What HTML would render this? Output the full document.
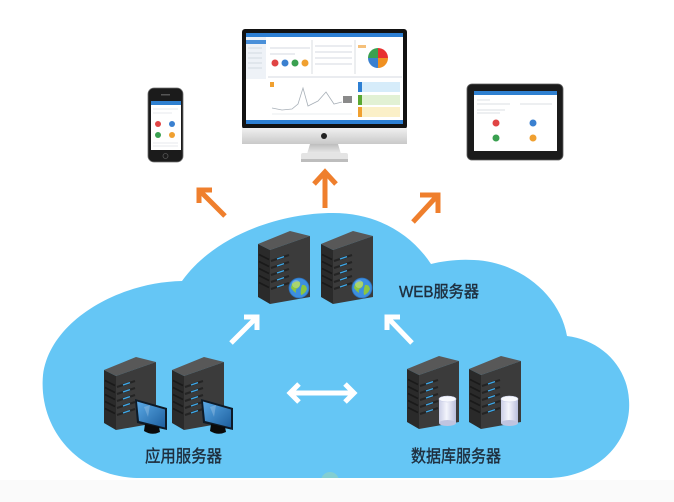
<!DOCTYPE html>
<html><head><meta charset="utf-8"><style>
html,body{margin:0;padding:0;background:#fff;}
svg{display:block}
</style></head><body>
<svg width="674" height="502" viewBox="0 0 674 502" xmlns="http://www.w3.org/2000/svg">
<defs>
 <linearGradient id="chin" x1="0" y1="0" x2="0" y2="1">
  <stop offset="0" stop-color="#f0f0f0"/><stop offset="1" stop-color="#c9c9c9"/>
 </linearGradient>
 <linearGradient id="stand" x1="0" y1="0" x2="0" y2="1">
  <stop offset="0" stop-color="#bdbdbd"/><stop offset="1" stop-color="#ececec"/>
 </linearGradient>
 <linearGradient id="mscr" x1="0" y1="0" x2="1" y2="1">
  <stop offset="0" stop-color="#5aa9e6"/><stop offset="1" stop-color="#1d5f9e"/>
 </linearGradient>
 <linearGradient id="cyl" x1="0" y1="0" x2="1" y2="0">
  <stop offset="0" stop-color="#c9cde6"/><stop offset="0.45" stop-color="#f4f5fc"/><stop offset="1" stop-color="#b9bedc"/>
 </linearGradient>
 <clipPath id="cloudclip">
  <path d="M140 478 L551 478 C600 476 632 440 629 400 C627 365 600 340 567 336 C560 295 520 262 474 260 C458 259 443 261 431 264 C410 232 375 213 333 213 C280 213 215 235 182 281 C120 282 50 320 43 375 C38 430 80 478 140 478 Z"/>
 </clipPath>
 <g id="srv">
  <path d="M0 13 L32 0 L52 5 L12 19 Z" fill="#585858"/>
  <path d="M0 13 L12 19 L12 73 L0 66 Z" fill="#2a2a2a"/>
  <path d="M12 19 L52 5 L52 66 L12 73 Z" fill="#3b3b3b"/>
  <g stroke-linecap="butt">
   <path d="M1 23.5 L11 28.5 M1 30.5 L11 35.5 M1 37.5 L11 42.5 M1 44.5 L11 49.5 M1 51.5 L11 56.5" stroke="#1a1a1a" stroke-width="1.6"/>
   <path d="M13 30 L31 24 M13 37 L31 31 M13 44 L31 38 M13 51 L31 45 M13 58 L31 52" stroke="#242424" stroke-width="2"/>
   <path d="M19 28 L26 25.6 M19 35 L26 32.6 M19 42 L26 39.6 M19 49 L26 46.6 M19 56 L26 53.6" stroke="#3fa8e8" stroke-width="1.4"/>
  </g>
 </g>
 <g id="globe">
  <circle cx="0" cy="0" r="10" fill="#3d8fe0"/>
  <path d="M-7 -4 Q-3 -8 1 -6 Q2 -2 -1 0 Q-4 1 -3 5 Q-6 3 -8 0 Z" fill="#8cc63f"/>
  <path d="M3 -3 Q7 -4 8 1 Q6 6 2 7 Q1 3 3 -3 Z" fill="#8cc63f"/>
  <circle cx="-3" cy="-4" r="4" fill="#fff" opacity="0.25"/>
  <circle cx="0" cy="0" r="10" fill="none" stroke="#2a6fb8" stroke-width="0.8"/>
 </g>
 <g id="mon">
  <path d="M31 42 L63 51 L63 73 L33 66 Z" fill="#0e1a26"/>
  <path d="M33 44.5 L61 52.5 L61 70.5 L35 64 Z" fill="url(#mscr)"/>
  <path d="M40 50 L46 48 L44 60 Z" fill="#fff" opacity="0.2"/>
  <path d="M41 67 L55 70 L56 75 Q48 79 40 74 Z" fill="#0a0a0a"/>
 </g>
 <g id="cylg">
  <rect x="32" y="43" width="17" height="24" fill="url(#cyl)"/>
  <ellipse cx="40.5" cy="67" rx="8.5" ry="3" fill="#bfc4e0"/>
  <ellipse cx="40.5" cy="43" rx="8.5" ry="3" fill="#f7f8fd" stroke="#c6cbe4" stroke-width="0.6"/>
 </g>
</defs>

<rect x="0" y="0" width="674" height="502" fill="#ffffff"/>
<rect x="0" y="480" width="674" height="22" fill="#fafafa"/>

<!-- cloud -->
<path d="M140 478 L551 478 C600 476 632 440 629 400 C627 365 600 340 567 336 C560 295 520 262 474 260 C458 259 443 261 431 264 C410 232 375 213 333 213 C280 213 215 235 182 281 C120 282 50 320 43 375 C38 430 80 478 140 478 Z" fill="#65c6f5"/>
<circle cx="330" cy="481" r="9" fill="#a8d8a8" opacity="0.45" clip-path="url(#cloudclip)"/>

<!-- orange arrows -->
<g stroke="#ef7f2d" stroke-width="5" fill="none" stroke-linecap="butt" stroke-linejoin="miter">
 <line x1="225" y1="216" x2="200" y2="191"/>
 <polyline points="212,190 199,190 199,203"/>
 <line x1="325" y1="208" x2="325" y2="173"/>
 <polyline points="314,184 325,172 336,184"/>
 <line x1="413" y1="222" x2="437" y2="196"/>
 <polyline points="420,195 438,195 438,213"/>
</g>

<!-- white arrows -->
<g stroke="#ffffff" stroke-width="5" fill="none" stroke-linecap="butt" stroke-linejoin="miter">
 <line x1="231" y1="343" x2="256" y2="318"/>
 <polyline points="244,317 257,317 257,330"/>
 <line x1="412" y1="343" x2="388" y2="318"/>
 <polyline points="400,317 387,317 387,330"/>
 <line x1="290" y1="393" x2="354" y2="393"/>
 <polyline points="299,384 290,393 299,402"/>
 <polyline points="345,384 354,393 345,402"/>
</g>

<!-- web servers -->
<use href="#srv" x="258" y="231"/>
<use href="#globe" x="299" y="288"/>
<use href="#srv" x="321" y="231"/>
<use href="#globe" x="362" y="288"/>

<!-- app servers -->
<use href="#srv" x="104" y="357"/>
<use href="#mon" x="104" y="357"/>
<use href="#srv" x="172" y="357"/>
<use href="#mon" x="170" y="357"/>

<!-- db servers -->
<use href="#srv" x="407" y="356"/>
<use href="#cylg" x="407" y="356"/>
<use href="#srv" x="469" y="356"/>
<use href="#cylg" x="469" y="356"/>

<!-- labels -->
<g font-family="Liberation Sans, 'Noto Sans CJK SC', sans-serif" fill="#1f2f3f" stroke="#1f2f3f" stroke-width="0.4">
 <text x="399" y="297" font-size="16" textLength="80" lengthAdjust="spacingAndGlyphs">WEB服务器</text>
 <text x="145" y="462" font-size="17" textLength="77" lengthAdjust="spacingAndGlyphs">应用服务器</text>
 <text x="411" y="462" font-size="17" textLength="90" lengthAdjust="spacingAndGlyphs">数据库服务器</text>
</g>

<!-- desktop monitor -->
<rect x="242" y="29" width="165" height="100" rx="3" fill="#121212"/>
<rect x="246" y="33" width="157" height="91" fill="#ffffff"/>
<rect x="246" y="33" width="157" height="4" fill="#2d7fd3"/>
<rect x="246" y="120" width="157" height="4" fill="#2d7fd3"/>
<rect x="246" y="37" width="20" height="42" fill="#eef2f7"/>
<rect x="246" y="40" width="20" height="4" fill="#4a90d9"/>
<g stroke="#c8ced6" stroke-width="0.7">
 <line x1="248" y1="48" x2="262" y2="48"/><line x1="248" y1="53" x2="262" y2="53"/>
 <line x1="248" y1="58" x2="262" y2="58"/><line x1="248" y1="63" x2="262" y2="63"/>
 <line x1="248" y1="68" x2="262" y2="68"/>
 <line x1="270" y1="48" x2="310" y2="48"/><line x1="270" y1="54" x2="295" y2="54"/>
 <line x1="315" y1="46" x2="352" y2="46"/><line x1="315" y1="52" x2="352" y2="52"/>
 <line x1="315" y1="58" x2="352" y2="58"/><line x1="315" y1="64" x2="352" y2="64"/>
 <line x1="268" y1="77" x2="402" y2="77"/>
 <line x1="312" y1="40" x2="312" y2="74"/><line x1="355" y1="40" x2="355" y2="74"/>
</g>
<circle cx="275" cy="63" r="3.5" fill="#e04444"/>
<circle cx="285" cy="63" r="3.5" fill="#3a80d0"/>
<circle cx="295" cy="63" r="3.5" fill="#3aa050"/>
<circle cx="305" cy="63" r="3.5" fill="#f0a030"/>
<rect x="358" y="45" width="8" height="3" fill="#f5c07a"/>
<path d="M378 58 L378 48 A10 10 0 0 1 388 58 Z" fill="#e83030"/>
<path d="M378 58 L388 58 A10 10 0 0 1 378 68 Z" fill="#f09020"/>
<path d="M378 58 L378 68 A10 10 0 0 1 368 58 Z" fill="#3a80d0"/>
<path d="M378 58 L368 58 A10 10 0 0 1 378 48 Z" fill="#3aa050"/>
<polyline points="272,108 282,110 292,109 298,104 303,88 308,106 318,101 326,92 334,104 342,102" fill="none" stroke="#a8b0b8" stroke-width="0.8"/>
<rect x="343" y="96" width="9" height="7" fill="#8a8a8a"/>
<rect x="270" y="82" width="4" height="5" fill="#f0a030"/>
<line x1="272" y1="114" x2="352" y2="114" stroke="#d6dbe0" stroke-width="0.6"/>
<rect x="358" y="82" width="42" height="10" fill="#d6ecfa"/>
<rect x="358" y="82" width="4" height="10" fill="#2d7fd3"/>
<rect x="358" y="95" width="42" height="10" fill="#e2f1d4"/>
<rect x="358" y="95" width="4" height="10" fill="#5aa832"/>
<rect x="358" y="107" width="42" height="10" fill="#fbf0c8"/>
<rect x="358" y="107" width="4" height="10" fill="#f0a030"/>
<rect x="242" y="128" width="165" height="16" fill="url(#chin)"/>
<circle cx="324" cy="136" r="3" fill="#222"/>
<path d="M310 144 L338 144 L341 154 L307 154 Z" fill="url(#stand)"/>
<rect x="301" y="153" width="47" height="9" rx="2" fill="#e4e4e4"/>
<rect x="301" y="159" width="47" height="3" fill="#bdbdbd"/>

<!-- phone -->
<rect x="148" y="88" width="35" height="74" rx="6" fill="#1b1b1b" stroke="#6f6f6f" stroke-width="0.8"/>
<rect x="151" y="101" width="30" height="49" fill="#ffffff"/>
<rect x="151" y="101" width="30" height="4" fill="#2f80d0"/>
<g stroke="#cfd4da" stroke-width="0.6">
 <line x1="153" y1="109" x2="178" y2="109"/><line x1="153" y1="113" x2="172" y2="113"/>
 <line x1="153" y1="143" x2="178" y2="143"/><line x1="153" y1="146" x2="178" y2="146"/>
</g>
<circle cx="158" cy="124" r="3" fill="#e04444"/>
<circle cx="172" cy="124" r="3" fill="#3a80d0"/>
<circle cx="158" cy="135" r="3" fill="#3aa050"/>
<circle cx="172" cy="135" r="3" fill="#f0a030"/>
<circle cx="165.5" cy="156" r="2.5" fill="none" stroke="#555" stroke-width="0.8"/>
<rect x="161" y="94" width="9" height="1.5" fill="#555"/>

<!-- tablet -->
<rect x="467" y="84" width="96" height="76" rx="5" fill="#1b1b1b" stroke="#5f5f5f" stroke-width="0.8"/>
<rect x="474" y="91" width="83" height="60" fill="#ffffff"/>
<rect x="474" y="91" width="83" height="4" fill="#2f80d0"/>
<g stroke="#cfd4da" stroke-width="0.7">
 <line x1="477" y1="100" x2="490" y2="100"/>
 <line x1="477" y1="104" x2="510" y2="104"/><line x1="520" y1="104" x2="552" y2="104"/>
 <line x1="477" y1="110" x2="505" y2="110"/><line x1="477" y1="113" x2="500" y2="113"/>
</g>
<circle cx="496" cy="123" r="3.5" fill="#e04444"/>
<circle cx="533" cy="123" r="3.5" fill="#3a80d0"/>
<circle cx="496" cy="138" r="3.5" fill="#3aa050"/>
<circle cx="533" cy="138" r="3.5" fill="#f0a030"/>
</svg>
</body></html>
